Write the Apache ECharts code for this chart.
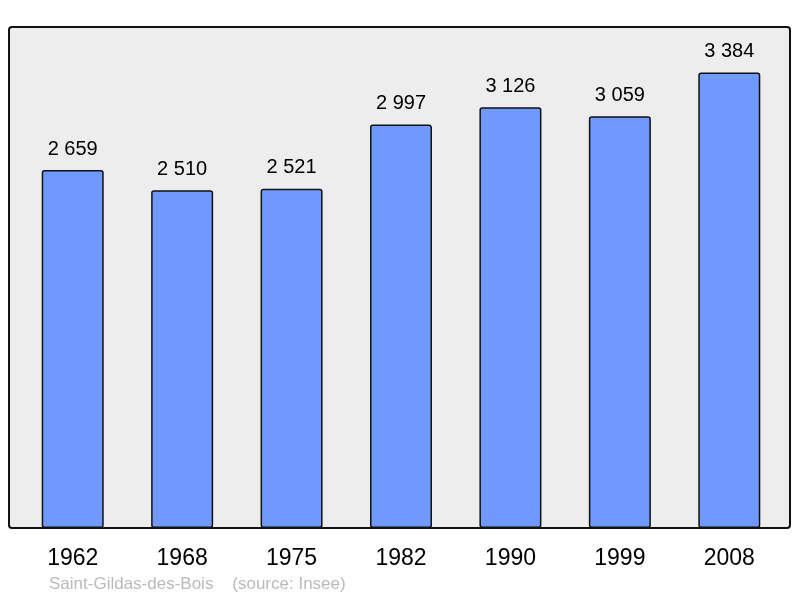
<!DOCTYPE html>
<html>
<head>
<meta charset="utf-8">
<script src="https://cdn.jsdelivr.net/npm/echarts@6/dist/echarts.min.js"></script>
<style>
  html, body { margin: 0; padding: 0; background: #fff; }
  #chart { width: 800px; height: 598px; }
</style>
</head>
<body>
<div id="chart"></div>
<script>
var years = ['1962', '1968', '1975', '1982', '1990', '1999', '2008'];
var population = [2659, 2510, 2521, 2997, 3126, 3059, 3384];

function fmt(v) {
  return String(v).replace(/\B(?=(\d{3})+(?!\d))/g, ' ');
}

var chart = echarts.init(document.getElementById('chart'));

var option = {
  animation: false,
  textStyle: { fontFamily: 'Liberation Sans, Arial, sans-serif' },
  graphic: [
    {
      type: 'rect',
      z: -10,
      shape: { x: 9, y: 27, width: 781, height: 501, r: 3 },
      style: { fill: '#ededed', stroke: '#111', lineWidth: 2 }
    },
    {
      type: 'text',
      left: 49,
      top: 576,
      style: {
        text: 'Saint-Gildas-des-Bois    (source: Insee)',
        fill: '#bbbbbb',
        font: '17px "Liberation Sans", Arial, sans-serif'
      }
    }
  ],
  grid: { left: 18, right: 16, top: 27, bottom: 70 },
  xAxis: {
    type: 'category',
    data: years,
    axisLine: { show: false },
    axisTick: { show: false },
    axisLabel: { color: '#000', fontSize: 23, margin: 19 }
  },
  yAxis: {
    type: 'value',
    min: 0,
    max: 3722,
    show: false,
    splitLine: { show: false }
  },
  series: [
    {
      type: 'bar',
      data: population,
      barWidth: 62,
      itemStyle: {
        color: '#7099ff',
        borderColor: '#111',
        borderWidth: 1.5,
        borderRadius: 2
      },
      label: {
        show: true,
        position: 'top',
        distance: 11,
        color: '#000',
        fontSize: 20,
        formatter: function (p) { return fmt(p.value); }
      }
    }
  ]
};

chart.setOption(option);
</script>
</body>
</html>
